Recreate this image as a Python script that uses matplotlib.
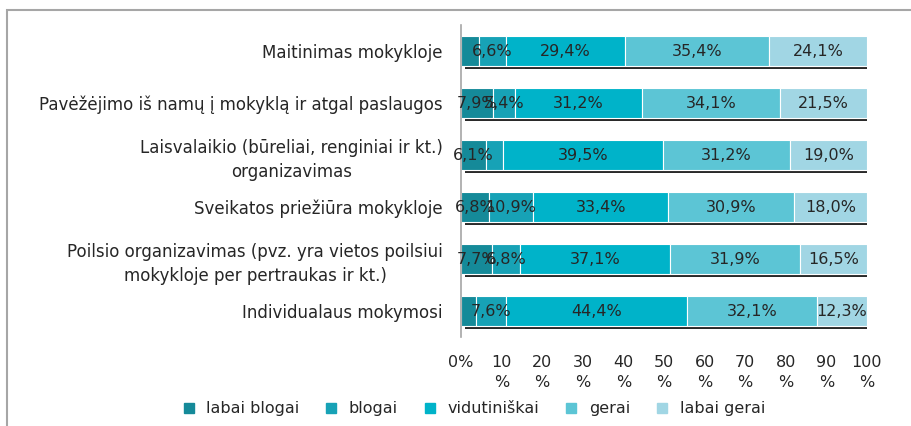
import numpy as np
import matplotlib.pyplot as plt
from matplotlib.lines import Line2D
from matplotlib.patches import Rectangle

categories = [
    "Maitinimas mokykloje",
    "Pavėžėjimo iš namų į mokyklą ir atgal paslaugos",
    "Laisvalaikio (būreliai, renginiai ir kt.)\norganizavimas",
    "Sveikatos priežiūra mokykloje",
    "Poilsio organizavimas (pvz. yra vietos poilsiui\nmokykloje per pertraukas ir kt.)",
    "Individualaus mokymosi",
]
series_names = ["labai blogai", "blogai", "vidutiniškai", "gerai", "labai gerai"]
labai_blogai = [4.5, 7.9, 6.1, 6.8, 7.7, 3.6]
blogai = [6.6, 5.4, 4.2, 10.9, 6.8, 7.6]
vidutiniskai = [29.4, 31.2, 39.5, 33.4, 37.1, 44.4]
gerai = [35.4, 34.1, 31.2, 30.9, 31.9, 32.1]
labai_gerai = [24.1, 21.5, 19.0, 18.0, 16.5, 12.3]
tick_labels = ["0%"] + [f"{v}\n%" for v in range(10, 101, 10)]

colors = ["#158a99", "#17a2b6", "#00b3c9", "#5cc5d5", "#a1d6e4"]
text_color = "#262626"

plt.rcParams["font.family"] = ["DejaVu Sans"]
plt.rcParams["font.size"] = 11.5

fig = plt.figure(figsize=(9.12, 4.26), dpi=100)
ax = fig.add_axes([461 / 912, 1 - 337 / 426, 406 / 912, 312 / 426])

# outer frame
fig.patches.append(Rectangle((7 / 912, -0.1), 1.1, 1 - 10 / 426 + 0.1,
                             transform=fig.transFigure, fill=False,
                             edgecolor="#a6a6a6", linewidth=1.5))

y = np.arange(len(categories))
h = 0.56
data = [labai_blogai, blogai, vidutiniskai, gerai, labai_gerai]
totals = np.sum(data, axis=0)

# shadow behind the bars
ax.barh(y + 0.075, totals, left=0.9, height=h, color="#2a2a2a", zorder=1)

left = np.zeros(len(categories))
for vals, name, c in zip(data, series_names, colors):
    vals = np.array(vals)
    ax.barh(y, vals, left=left, height=h, color=c, edgecolor="white",
            linewidth=0.8, label=name, zorder=2)
    for yi, l, v in zip(y, left, vals):
        if v >= 5:
            ax.text(l + v / 2, yi, f"{v:.1f}%".replace(".", ","),
                    ha="center", va="center", color=text_color, zorder=3)
    left += vals

ax.set_xlim(0, 100)
ax.set_ylim(5.5, -0.5)
ax.set_xticks(range(0, 101, 10))
ax.set_xticklabels(tick_labels, color=text_color, va="top", linespacing=1.45)
ax.set_yticks(y)
ax.set_yticklabels(categories, color=text_color, linespacing=1.45, fontsize=12)
for t in ax.get_yticklabels():
    t.set_multialignment("center")
ax.tick_params(axis="y", length=0, pad=13)
ax.tick_params(axis="x", length=0, pad=13)
for s in ["top", "right", "bottom"]:
    ax.spines[s].set_visible(False)
ax.spines["left"].set_color("#a6a6a6")
ax.spines["left"].set_linewidth(1.2)

handles = [Line2D([], [], marker="s", linestyle="none", markersize=7,
                  markerfacecolor=c, markeredgecolor=c) for c in colors]
fig.legend(handles, series_names, loc="center", bbox_to_anchor=(0.514, 0.04),
           ncol=5, frameon=False, handletextpad=0.1, columnspacing=1.0,
           labelcolor=text_color)

fig.savefig("out.png", dpi=100)
